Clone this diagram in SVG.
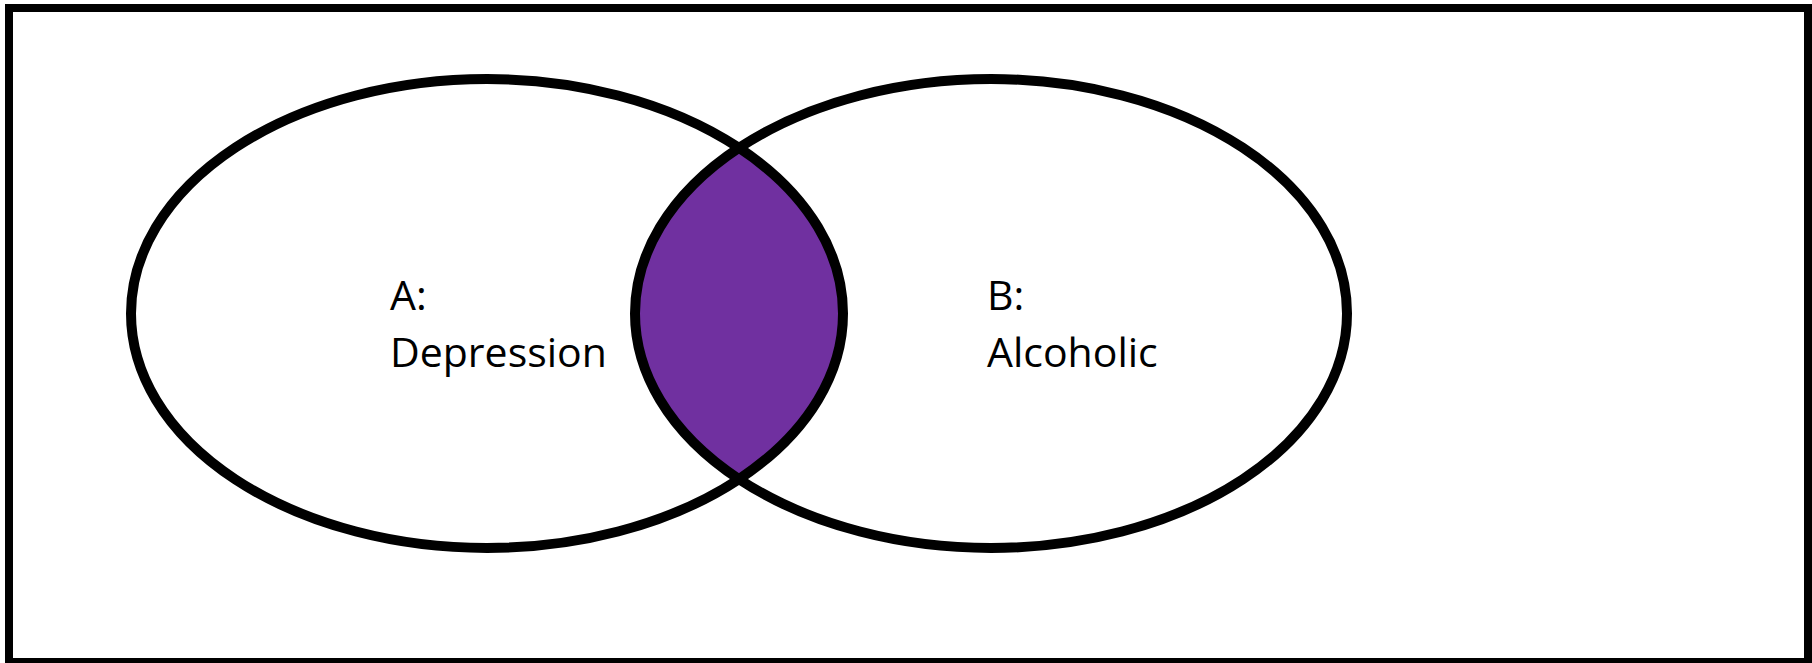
<svg xmlns="http://www.w3.org/2000/svg" width="1812" height="663" viewBox="0 0 1812 663">
<style>
.c{fill:none;stroke:#000;stroke-width:10}
.t{font-family:"Open Sans","Liberation Sans",sans-serif;font-size:41px;fill:#000}
</style>
<defs>
<clipPath id="clipA"><ellipse cx="487" cy="313.5" rx="356" ry="234.5"/></clipPath>
</defs>
<rect x="0" y="0" width="1812" height="663" fill="#fff"/>
<rect x="9" y="8" width="1799" height="654" fill="none" stroke="#000" stroke-width="8"/>
<g id="intersection">
<ellipse cx="991" cy="313.5" rx="356" ry="234.5" fill="#7030A0" clip-path="url(#clipA)"/>
</g>
<g id="setA">
<ellipse class="c" cx="487" cy="313.5" rx="356" ry="234.5"/>
<text class="t" x="390" y="310">A:</text>
<text class="t" x="390" y="367">Depression</text>
</g>
<g id="setB">
<ellipse class="c" cx="991" cy="313.5" rx="356" ry="234.5"/>
<text class="t" x="987" y="310">B:</text>
<text class="t" x="987" y="367">Alcoholic</text>
</g>
</svg>
